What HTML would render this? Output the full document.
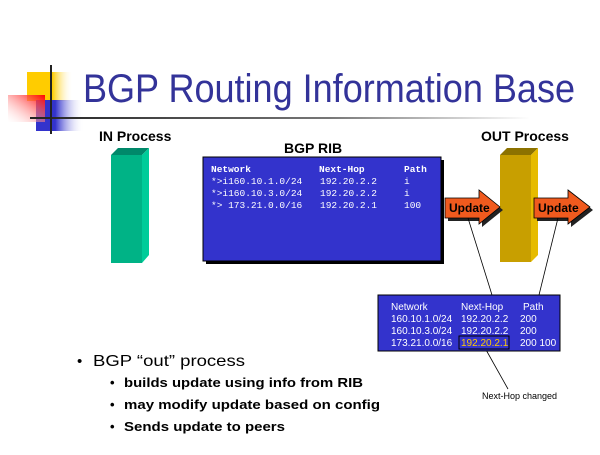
<!DOCTYPE html>
<html><head><style>
body{margin:0;background:#fff}
svg text{font-family:"Liberation Sans",sans-serif}
svg text.m{font-family:"Liberation Mono",monospace}
</style></head><body>
<svg width="600" height="450" viewBox="0 0 600 450">
<defs>
<linearGradient id="gy" x1="0" x2="1"><stop offset="0" stop-color="#ffcc00"/><stop offset="0.55" stop-color="#ffcc00"/><stop offset="1" stop-color="#fff" stop-opacity="0"/></linearGradient>
<linearGradient id="gb" x1="0" x2="1"><stop offset="0" stop-color="#3333cc"/><stop offset="0.4" stop-color="#3333cc"/><stop offset="1" stop-color="#fff" stop-opacity="0"/></linearGradient>
<linearGradient id="gr" x1="1" y1="0" x2="0" y2="1"><stop offset="0" stop-color="#ff0000"/><stop offset="1" stop-color="#fff" stop-opacity="0.2"/></linearGradient>
<linearGradient id="gl" x1="0" x2="1"><stop offset="0" stop-color="#222"/><stop offset="0.6" stop-color="#777"/><stop offset="1" stop-color="#fff"/></linearGradient>
</defs>
<rect x="27" y="72" width="46" height="29" fill="url(#gy)"/>
<rect x="36" y="100" width="48" height="31" fill="url(#gb)"/>
<rect x="8" y="95" width="37" height="27" fill="url(#gr)"/>
<rect x="30" y="117" width="500" height="2" fill="url(#gl)"/>
<rect x="50" y="65" width="2" height="69" fill="#222"/>
<text x="83" y="102" font-size="40" fill="#333399" textLength="492" lengthAdjust="spacingAndGlyphs">BGP Routing Information Base</text>
<text x="99" y="141" font-size="14" font-weight="bold">IN Process</text>
<text x="481" y="141" font-size="14" font-weight="bold">OUT Process</text>
<text x="284" y="153" font-size="14" font-weight="bold">BGP RIB</text>
<!-- IN box -->
<polygon points="111,155 118,148 149,148 142,155" fill="#00886a"/>
<polygon points="142,155 149,148 149,255 142,263" fill="#00cc99"/>
<rect x="111" y="155" width="31" height="108" fill="#00b386"/>
<!-- OUT box -->
<polygon points="500,155 507,148 538,148 531,155" fill="#8c7200"/>
<polygon points="531,155 538,148 538,255 531,262" fill="#e6bb00"/>
<rect x="500" y="155" width="31" height="107" fill="#c89f00"/>
<!-- RIB -->
<rect x="206" y="160" width="238" height="104" fill="#000"/>
<rect x="203" y="157" width="238" height="104" fill="#3333cc" stroke="#000"/>
<g font-size="9.5" fill="#fff">
<text class="m" x="211" y="172" font-weight="bold">Network</text><text class="m" x="319" y="172" font-weight="bold">Next-Hop</text><text class="m" x="404" y="172" font-weight="bold">Path</text>
<text class="m" x="211" y="184">*&gt;i160.10.1.0/24</text><text class="m" x="320" y="184">192.20.2.2</text><text class="m" x="404" y="184">i</text>
<text class="m" x="211" y="196">*&gt;i160.10.3.0/24</text><text class="m" x="320" y="196">192.20.2.2</text><text class="m" x="404" y="196">i</text>
<text class="m" x="211" y="208">*&gt; 173.21.0.0/16</text><text class="m" x="320" y="208">192.20.2.1</text><text class="m" x="404" y="208">100</text>
</g>
<!-- arrows -->
<polygon points="448,201 482,201 482,193 503,210 482,227 482,221 448,221" fill="#222"/>
<polygon points="445,198 479,198 479,190 500,207 479,224 479,218 445,218" fill="#f05a1e" stroke="#000" stroke-width="0.8"/>
<text x="449" y="212" font-size="12" font-weight="bold">Update</text>
<polygon points="537,201 571,201 571,193 593,210 571,227 571,221 537,221" fill="#222"/>
<polygon points="534,198 568,198 568,190 590,207 568,224 568,218 534,218" fill="#f05a1e" stroke="#000" stroke-width="0.8"/>
<text x="538" y="212" font-size="12" font-weight="bold">Update</text>
<!-- callout lines -->
<line x1="468" y1="218" x2="492" y2="295" stroke="#000" stroke-width="0.8"/>
<line x1="558" y1="218" x2="539" y2="295" stroke="#000" stroke-width="0.8"/>
<line x1="485" y1="348" x2="508" y2="389" stroke="#000" stroke-width="0.8"/>
<!-- lower table -->
<rect x="378" y="295" width="182" height="56" fill="#3333cc" stroke="#000"/>
<g font-size="10" fill="#fff">
<text x="391" y="310">Network</text><text x="461" y="310">Next-Hop</text><text x="523" y="310">Path</text>
<text x="391" y="322">160.10.1.0/24</text><text x="461" y="322">192.20.2.2</text><text x="520" y="322">200</text>
<text x="391" y="334">160.10.3.0/24</text><text x="461" y="334">192.20.2.2</text><text x="520" y="334">200</text>
<text x="391" y="346">173.21.0.0/16</text><text x="461" y="346" fill="#ffcc00">192.20.2.1</text><text x="520" y="346">200 100</text>
</g>
<rect x="459" y="336" width="50" height="13" fill="none" stroke="#000"/>
<text x="482" y="399" font-size="9">Next-Hop changed</text>
<!-- bullets -->
<text x="77" y="366" font-size="15">•</text><text x="93" y="366" font-size="16" textLength="152" lengthAdjust="spacingAndGlyphs">BGP “out” process</text>
<g font-size="13" font-weight="bold">
<text x="110" y="387">•</text><text x="124" y="387" textLength="239" lengthAdjust="spacingAndGlyphs">builds update using info from RIB</text>
<text x="110" y="409">•</text><text x="124" y="409" textLength="256" lengthAdjust="spacingAndGlyphs">may modify update based on config</text>
<text x="110" y="431">•</text><text x="124" y="431" textLength="161" lengthAdjust="spacingAndGlyphs">Sends update to peers</text>
</g>
</svg>
</body></html>
